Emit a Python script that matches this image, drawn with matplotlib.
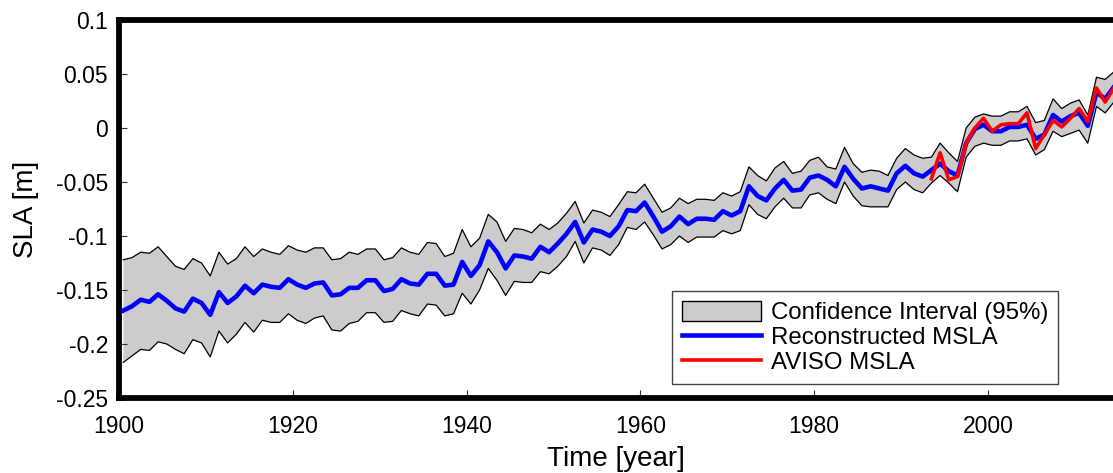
"""Reconstructed vs AVISO mean sea level anomaly, 1900-2014, with 95% band."""

import matplotlib
matplotlib.use("Agg")
import matplotlib.pyplot as plt
import numpy as np
from matplotlib.patches import Patch
from matplotlib.lines import Line2D
from matplotlib.ticker import FuncFormatter

plt.rcParams["font.family"] = ["Liberation Sans", "DejaVu Sans"]
plt.rcParams["axes.unicode_minus"] = False

# annual values, plotted at mid-year
years = np.arange(1900, 2015)

msla_recon = [
    -0.169, -0.165, -0.159, -0.161, -0.154, -0.160, -0.167, -0.170, -0.158, -0.162,
    -0.173, -0.152, -0.162, -0.156, -0.146, -0.153, -0.145, -0.147, -0.148, -0.140,
    -0.145, -0.148, -0.144, -0.143, -0.155, -0.154, -0.148, -0.148, -0.141, -0.141,
    -0.151, -0.149, -0.140, -0.144, -0.145, -0.135, -0.135, -0.146, -0.145, -0.124,
    -0.137, -0.127, -0.105, -0.115, -0.130, -0.118, -0.119, -0.121, -0.110, -0.115,
    -0.107, -0.098, -0.087, -0.106, -0.094, -0.096, -0.100, -0.091, -0.076, -0.077,
    -0.069, -0.082, -0.096, -0.091, -0.082, -0.089, -0.084, -0.084, -0.085, -0.077,
    -0.081, -0.077, -0.054, -0.063, -0.067, -0.056, -0.048, -0.058, -0.057, -0.046,
    -0.044, -0.048, -0.054, -0.036, -0.047, -0.056, -0.054, -0.056, -0.058, -0.042,
    -0.035, -0.042, -0.045, -0.039, -0.033, -0.040, -0.044, -0.014, -0.001, 0.003,
    -0.003, -0.003, 0.001, 0.001, 0.003, -0.010, -0.006, 0.012, 0.006, 0.011,
    0.014, 0.002, 0.033, 0.027, 0.038,
]

ci_upper = [
    -0.122, -0.120, -0.115, -0.116, -0.110, -0.119, -0.128, -0.131, -0.121, -0.125,
    -0.137, -0.115, -0.126, -0.121, -0.110, -0.119, -0.112, -0.115, -0.117, -0.109,
    -0.113, -0.115, -0.111, -0.111, -0.122, -0.121, -0.115, -0.117, -0.112, -0.112,
    -0.122, -0.120, -0.111, -0.115, -0.117, -0.106, -0.107, -0.119, -0.116, -0.094,
    -0.110, -0.102, -0.080, -0.087, -0.105, -0.093, -0.094, -0.097, -0.089, -0.094,
    -0.088, -0.079, -0.068, -0.088, -0.076, -0.078, -0.082, -0.071, -0.059, -0.060,
    -0.052, -0.065, -0.078, -0.074, -0.065, -0.070, -0.066, -0.066, -0.067, -0.060,
    -0.063, -0.059, -0.036, -0.044, -0.049, -0.037, -0.031, -0.042, -0.040, -0.030,
    -0.027, -0.036, -0.038, -0.018, -0.033, -0.041, -0.039, -0.040, -0.044, -0.028,
    -0.019, -0.025, -0.028, -0.027, -0.014, -0.023, -0.031, 0.000, 0.010, 0.013,
    0.011, 0.011, 0.015, 0.015, 0.020, 0.005, 0.007, 0.027, 0.018, 0.023,
    0.026, 0.012, 0.047, 0.045, 0.052,
]

ci_lower = [
    -0.217, -0.211, -0.205, -0.206, -0.198, -0.200, -0.205, -0.209, -0.196, -0.199,
    -0.212, -0.188, -0.199, -0.191, -0.180, -0.189, -0.178, -0.180, -0.180, -0.172,
    -0.178, -0.181, -0.176, -0.174, -0.187, -0.188, -0.181, -0.179, -0.171, -0.171,
    -0.180, -0.179, -0.169, -0.172, -0.174, -0.163, -0.164, -0.174, -0.172, -0.153,
    -0.163, -0.150, -0.130, -0.141, -0.155, -0.142, -0.143, -0.143, -0.133, -0.135,
    -0.128, -0.119, -0.105, -0.125, -0.111, -0.113, -0.118, -0.108, -0.092, -0.094,
    -0.087, -0.099, -0.112, -0.108, -0.100, -0.106, -0.101, -0.101, -0.101, -0.095,
    -0.098, -0.095, -0.071, -0.080, -0.084, -0.073, -0.065, -0.074, -0.074, -0.062,
    -0.060, -0.066, -0.070, -0.050, -0.063, -0.072, -0.073, -0.073, -0.073, -0.057,
    -0.050, -0.057, -0.060, -0.051, -0.044, -0.051, -0.059, -0.027, -0.017, -0.014,
    -0.016, -0.016, -0.012, -0.012, -0.010, -0.025, -0.020, -0.003, -0.008, -0.005,
    -0.002, -0.014, 0.020, 0.014, 0.024,
]

aviso_years = np.arange(1993, 2015)
msla_aviso = [
    -0.047, -0.023, -0.048, -0.045, -0.014, 0.000, 0.009, -0.003, 0.003, 0.004,
    0.004, 0.014, -0.019, -0.006, 0.007, 0.001, 0.009, 0.018, 0.006, 0.037,
    0.024, 0.037,
]

yticks = [-0.25, -0.2, -0.15, -0.1, -0.05, 0, 0.05, 0.1]
xticks = [1900, 1920, 1940, 1960, 1980, 2000]

fig = plt.figure(figsize=(11.13, 4.73), dpi=100)
ax = fig.add_axes([119 / 1113, 75 / 473, 994 / 1113, 378 / 473])

t = years + 0.5
ax.fill_between(t, ci_lower, ci_upper, facecolor="#cccccc",
                edgecolor="none", zorder=1)
ax.plot(t, ci_upper, color="black", lw=0.9, zorder=2)
ax.plot(t, ci_lower, color="black", lw=0.9, zorder=2)
ax.plot(t, msla_recon, color="#0000ff", lw=3.3, zorder=3)
ax.plot(aviso_years + 0.5, msla_aviso, color="#ff0000", lw=2.6, zorder=4)

ax.set_xlim(1900, 2014.4)
ax.set_ylim(-0.25, 0.1)
ax.set_xticks(xticks)
ax.set_yticks(yticks)
ax.yaxis.set_major_formatter(FuncFormatter(lambda v, _: "%g" % round(v, 2)))
ax.tick_params(direction="in", length=6, width=0.8, color="#333333",
               labelsize=16.5)
ax.tick_params(axis="x", pad=12)
ax.tick_params(axis="y", pad=8)

for side in ("left", "top", "bottom"):
    ax.spines[side].set_linewidth(4.2)
ax.spines["right"].set_visible(False)

ax.set_xlabel("Time [year]", fontsize=20, labelpad=6)
ax.set_ylabel("SLA [m]", fontsize=20, labelpad=12)

handles = [
    Patch(facecolor="#cccccc", edgecolor="black", linewidth=1.0),
    Line2D([], [], color="#0000ff", lw=3.3),
    Line2D([], [], color="#ff0000", lw=2.6),
]
labels = ["Confidence Interval (95%)", "Reconstructed MSLA", "AVISO MSLA"]
leg = ax.legend(handles, labels, loc="upper left", bbox_to_anchor=(0.556, 0.282),
                fontsize=17.3, frameon=True, fancybox=False, framealpha=1,
                handlelength=3.3, handleheight=0.85, labelspacing=0.08,
                handletextpad=0.4, borderpad=0.42, borderaxespad=0)
leg.get_frame().set_edgecolor("#444444")
leg.get_frame().set_linewidth(1.0)

fig.savefig("out.png", dpi=100)
